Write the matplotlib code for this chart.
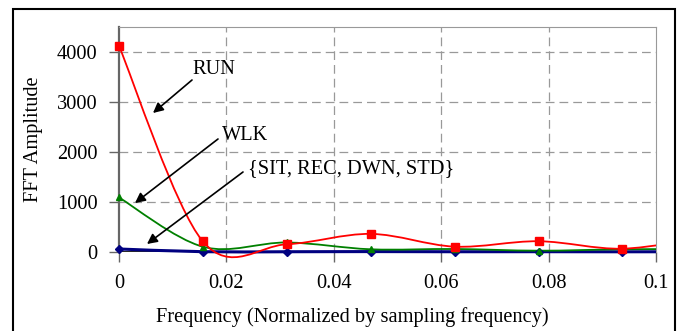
import numpy as np
import matplotlib
matplotlib.use("Agg")
import matplotlib.pyplot as plt
from matplotlib.path import Path
from matplotlib.patches import PathPatch, Rectangle, FancyArrowPatch

plt.rcParams["font.family"] = ["Liberation Serif", "DejaVu Serif"]
FS = 14.7

# --- data (FFT bins at k/64 of the sampling frequency) ---------------------
freq = [0.0, 0.015625, 0.03125, 0.046875, 0.0625, 0.078125, 0.09375, 0.109375]
run = [4120, 210, 155, 362, 107, 215, 66, 300]
wlk = [1090, 105, 190, 54, 60, 26, 54, 60]
other = [60, 6, 5, 8, 5, 6, 4, 6]

x_ticks = [0, 0.02, 0.04, 0.06, 0.08, 0.1]
x_ticklabels = ["0", "0.02", "0.04", "0.06", "0.08", "0.1"]
y_ticks = [0, 1000, 2000, 3000, 4000]


def excel_smooth(xs, ys):
    """Bezier path through the points, like Excel's smoothed line."""
    p = np.column_stack([xs, ys]).astype(float)
    n = len(p)
    verts = [p[0]]
    codes = [Path.MOVETO]
    for i in range(n - 1):
        p0 = p[i - 1] if i > 0 else p[i]
        p3 = p[i + 2] if i + 2 < n else p[i + 1]
        c1 = p[i] + (p[i + 1] - p0) / 6.0
        c2 = p[i + 1] - (p3 - p[i]) / 6.0
        verts += [c1, c2, p[i + 1]]
        codes += [Path.CURVE4] * 3
    return Path(verts, codes)


fig = plt.figure(figsize=(6.8, 3.31), dpi=100)
ax = fig.add_axes([0.175, 0.2387, 0.7897, 0.6797])
ax.set_xlim(0, 0.1)
ax.set_ylim(0, 4500)

clip = Rectangle((0, -600), 0.1, 6000, transform=ax.transData)
series = [
    (other, "#000080", 2.2, "D", 4.5),
    (wlk, "#008000", 1.3, "^", 5),
    (run, "#ff0000", 1.3, "s", 5.2),
]
fx = np.array(freq)
inside = fx <= 0.1
for ys, col, lw, mk, ms in series:
    patch = PathPatch(excel_smooth(freq, ys), facecolor="none", edgecolor=col,
                      lw=lw, transform=ax.transData, zorder=3)
    ax.add_patch(patch)
    patch.set_clip_path(clip)
    ax.plot(fx[inside], np.array(ys)[inside], ls="none", marker=mk, ms=ms,
            color=col, mec=col, clip_on=False, zorder=4)

# grid and frame, Excel style
for yv in y_ticks[1:]:
    ax.axhline(yv, color="#999999", lw=0.9, ls=(0, (7, 4)), zorder=1)
for xv in x_ticks[1:-1]:
    ax.axvline(xv, color="#999999", lw=0.9, ls=(0, (7, 4)), zorder=1)
ax.axhline(0, color="black", lw=1.2, zorder=2.5)
ax.spines["top"].set_color("#999999")
ax.spines["right"].set_color("#999999")
ax.spines["left"].set_color("#666666")
ax.spines["left"].set_linewidth(1.6)
ax.spines["bottom"].set_visible(False)

ax.set_xticks(x_ticks)
ax.set_xticklabels(x_ticklabels)
ax.set_yticks(y_ticks)
ax.tick_params(axis="both", direction="out", length=7, width=1,
               color="#666666", labelsize=FS)
ax.tick_params(axis="x", pad=9)
ax.tick_params(axis="y", pad=8.5)
ax.set_xlabel("Frequency (Normalized by sampling frequency)", fontsize=FS)
ax.xaxis.set_label_coords(0.434, -0.245)
ax.set_ylabel("FFT Amplitude", fontsize=FS, labelpad=10)

# annotations with arrows (pixel positions in figure coords)
W, H = 680.0, 331.0


def fig_pt(px, py):
    return (px / W, 1 - py / H)


labels = [
    ("RUN", (192, 70), (192, 80), (153, 113)),
    ("WLK", (222, 135), (218, 139), (135, 203)),
    ("{SIT, REC, DWN, STD}", (248, 169), (243, 172), (147, 244)),
]
for txt, tpos, start, end in labels:
    fig.text(*fig_pt(*tpos), txt, fontsize=FS, ha="left", va="center")
    arr = FancyArrowPatch(fig_pt(*start), fig_pt(*end), transform=fig.transFigure,
                          arrowstyle="-|>,head_length=6,head_width=3",
                          color="black", lw=1.2, shrinkA=0, shrinkB=0)
    fig.patches.append(arr)

# outer chart border
fig.patches.append(Rectangle((13 / W, -0.05), (675 - 13) / W, 1 - 9 / H + 0.05,
                             transform=fig.transFigure, fill=False,
                             edgecolor="black", lw=1.5))

fig.savefig("out.png", dpi=100)
